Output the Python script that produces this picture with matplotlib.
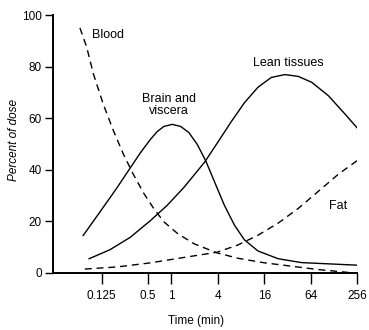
import matplotlib
matplotlib.use('Agg')
import matplotlib.pyplot as plt

# Data (time in min, percent of dose)
blood_t = [0.0652, 0.0797, 0.0974, 0.131, 0.178, 0.240, 0.323, 0.438,
           0.590, 0.801, 1.20, 1.97, 3.89, 7.26, 16.2, 36.3, 80.4, 180.0,
           223.0]
blood_v = [95.0, 87.6, 77.2, 65.4, 55.0, 45.9, 38.1, 30.9,
           25.0, 19.8, 15.3, 11.3, 7.8, 5.7, 3.9, 2.6, 1.3, 0.3,
           0.0]

brain_t = [0.0718, 0.119, 0.196, 0.293, 0.395, 0.536, 0.655, 0.801, 1.03,
           1.32, 1.69, 2.17, 2.81, 3.61, 4.86, 6.59, 8.88, 13.3, 24.3,
           48.8, 256.0]
brain_v = [14.5, 23.7, 32.9, 40.7, 46.5, 51.8, 54.8, 56.8, 57.6,
           56.8, 54.4, 49.8, 43.3, 35.5, 26.3, 18.5, 12.8, 8.5, 5.5,
           4.0, 3.0]

lean_t = [0.0859, 0.160, 0.293, 0.536, 0.883, 1.46, 2.71, 3.97, 5.94,
          8.88, 13.3, 19.8, 29.7, 44.3, 66.3, 109.0, 180.0, 256.0]
lean_v = [5.5, 9.0, 13.8, 20.3, 26.2, 33.2, 43.0, 50.5, 58.5,
          66.0, 72.0, 75.8, 76.9, 76.2, 73.9, 68.7, 61.5, 56.3]

fat_t = [0.0753, 0.196, 0.536, 1.46, 3.89, 7.26, 13.3, 24.3, 44.3, 80.4,
         147.0, 256.0]
fat_v = [1.5, 2.3, 3.9, 6.0, 8.0, 10.8, 14.6, 19.3, 25.0, 31.6,
         38.3, 43.5]

xticks = [0.125, 0.5, 1, 4, 16, 64, 256]
xtick_labels = ['0.125', '0.5', '1', '4', '16', '64', '256']
yticks = [0, 20, 40, 60, 80, 100]

plt.rcParams['font.family'] = ['Liberation Sans', 'DejaVu Sans']

fig = plt.figure(figsize=(3.69, 3.30), dpi=100)
ax = fig.add_axes([0.1436, 0.173, 0.8239, 0.7815])

dash = (0, (5, 3.5))
ax.plot(blood_t, blood_v, color='black', lw=1.0, linestyle=dash)
ax.plot(brain_t, brain_v, color='black', lw=1.0)
ax.plot(lean_t, lean_v, color='black', lw=1.0)
ax.plot(fat_t, fat_v, color='black', lw=1.0, linestyle=dash)

ax.set_xscale('log', base=2)
ax.set_xlim(2 ** -5.1, 256)
ax.set_ylim(0, 100)
ax.set_xticks(xticks)
ax.set_xticklabels(xtick_labels)
ax.minorticks_off()
ax.set_yticks(yticks)

for s in ['top', 'right']:
    ax.spines[s].set_visible(False)
for s in ['left', 'bottom']:
    ax.spines[s].set_linewidth(1.4)

ax.tick_params(axis='x', direction='out', length=8, width=1.0, pad=4,
               labelsize=8.5)
ax.tick_params(axis='y', direction='out', length=6, width=1.0, pad=2,
               labelsize=8.5)

# Curve labels
ax.text(0.093, 92.2, 'Blood', fontsize=9, ha='left', va='center')
ax.text(0.93, 65, 'Brain and\nviscera', fontsize=9, ha='center',
        va='center', multialignment='center', linespacing=1.0)
ax.text(32.7, 81.3, 'Lean tissues', fontsize=9, ha='center', va='center')
ax.text(145, 26.1, 'Fat', fontsize=9, ha='center', va='center')

ax.set_xlabel('Time (min)', fontsize=8.5)
ax.xaxis.set_label_coords(0.47, -0.165)
ax.set_ylabel('Percent of dose', fontsize=8.5, style='italic')
ax.yaxis.set_label_coords(-0.11, 0.515)

fig.savefig('out.png', dpi=100)
